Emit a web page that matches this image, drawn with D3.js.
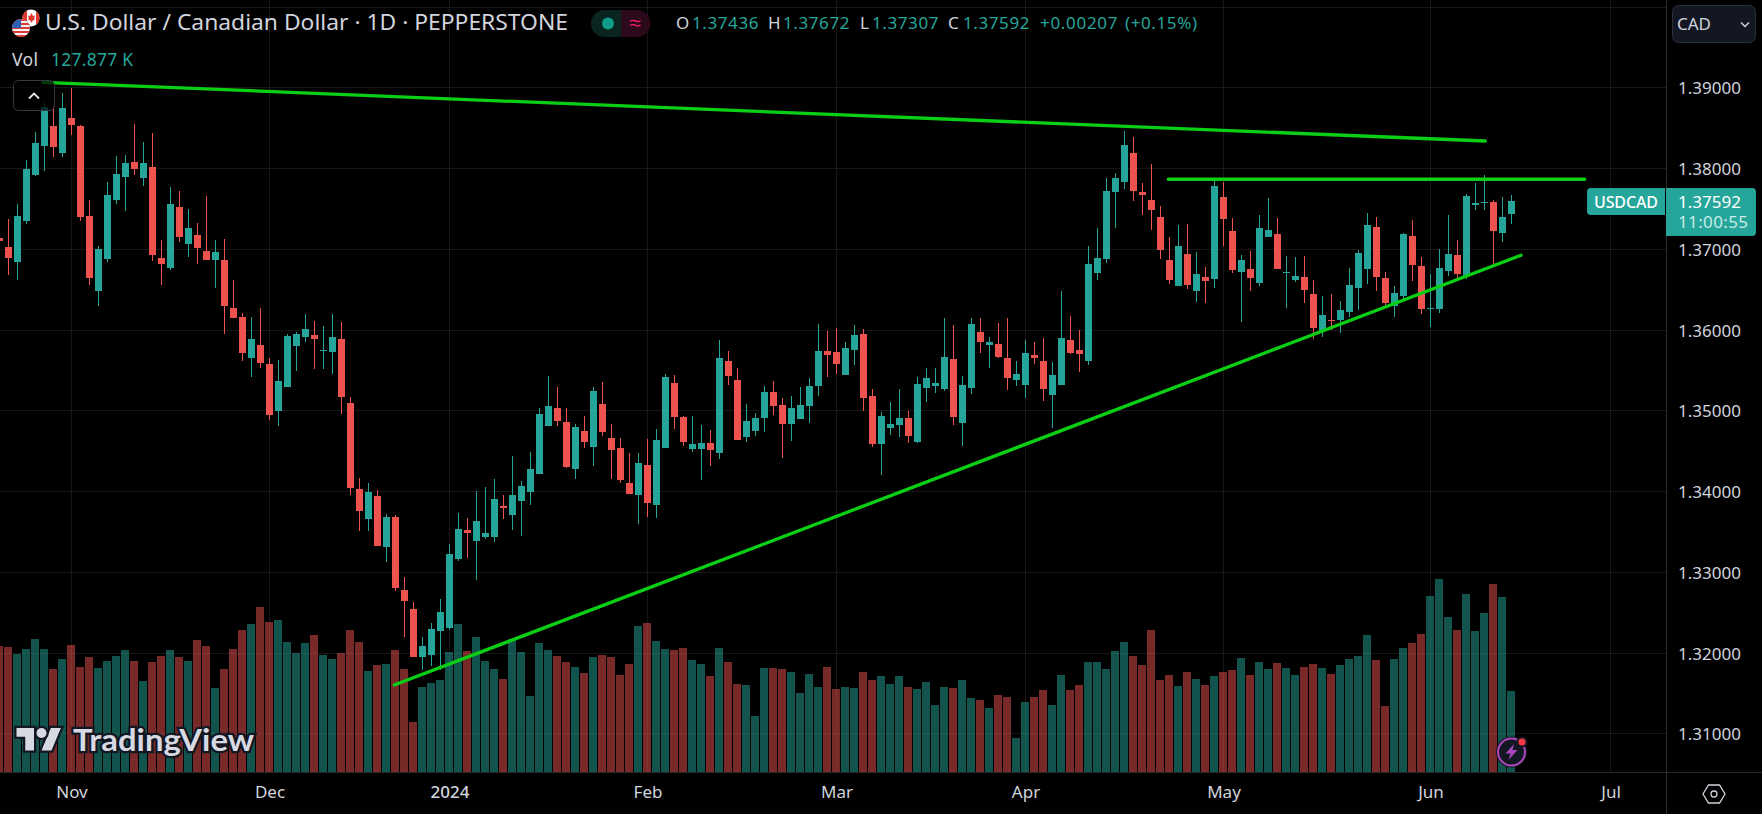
<!DOCTYPE html>
<html><head><meta charset="utf-8">
<script src="https://cdn.jsdelivr.net/npm/d3@7/dist/d3.min.js"></script>
<style>
html,body{margin:0;padding:0;background:#000;overflow:hidden}
svg{display:block}
text{font-family:"Noto Sans",sans-serif}
</style></head><body>
<svg id="c" width="1762" height="814"></svg>
<script>
// prices are stored in 1e-5 units (137592 = 1.37592)
const opens=[137134,137022,136836,137344,137914,138273,138520,138186,138620,138520,
137406,136477,136873,137604,137889,138075,137877,138013,136886,136762,
137517,137059,137171,136972,136861,136861,136267,136155,135647,135808,
135573,134991,135289,135797,135908,135933,135742,135722,135883,135091,
134026,133654,133939,133307,133678,132774,132539,131945,131969,132267,
132304,133159,133518,133382,133431,133431,133815,133704,133877,133989,
134211,134806,135029,134855,134273,134744,134546,135078,134657,134534,
134100,133951,134323,133828,134534,135338,134917,134521,134520,134595,
134471,135610,135375,134669,134743,134904,135226,135065,134830,134892,
135053,135301,135734,135722,135437,135746,135945,135177,134582,134781,
134818,134904,134607,135276,135301,135263,135635,134842,135276,135969,
135808,135821,135647,135375,135313,135685,135610,135189,135313,135870,
135746,135610,136700,136874,137703,137827,138186,137703,137604,137394,
136861,136539,136936,136477,136651,136626,137641,137220,136713,136750,
136576,137146,137183,136707,136614,136651,136440,135982,136115,136118,
136217,136515,136750,137270,136638,136292,136415,137158,136787,136266,
136254,136725,136923,136663,137542,137579,137580,137196,137436];
const highs=[137171,137369,137555,138099,138446,138801,138781,138929,138991,138533,
137604,137034,137827,138149,138161,138545,138322,138434,137109,137765,
137716,137493,137319,137654,137109,137121,136613,136205,136155,136267,
135648,135623,135945,135970,136193,136106,136044,136193,136094,135165,
134162,134100,134013,133716,133703,132935,132626,132192,132366,132663,
133344,133729,133667,134001,134051,134150,133951,134434,134125,134484,
135029,135425,135289,135029,134831,134930,135289,135351,134831,134657,
134472,134472,134645,134769,135450,135438,134930,134930,134818,134756,
135870,135734,135524,135078,134966,135301,135363,135152,135177,135288,
135400,136068,135982,136019,135846,136056,136007,135263,134979,135102,
135263,134991,135412,135524,135524,136143,136056,135424,136143,136143,
135907,136081,136143,135610,135870,135846,135895,135598,136477,136167,
135994,137035,137258,137877,137939,138459,138384,137815,138050,137530,
137146,137295,137307,136960,136775,137852,137827,137381,136923,136973,
137419,137629,137381,136911,136898,136911,136614,136415,136440,136353,
136762,136985,137443,137394,136713,136539,137196,137357,136898,136688,
136997,137419,137109,137679,137815,137914,137604,137641,137672];
const lows=[137047,136675,136613,137307,137901,137963,138137,138137,138409,137344,
136551,136291,136836,137555,137468,137914,137777,136849,136551,136737,
137084,136898,136811,136861,136514,135945,136143,135610,135412,135524,
134880,134805,135289,135487,135846,135512,135512,135450,134955,133951,
133506,133506,133320,133122,132762,132192,131945,131784,131833,131784,
132279,133134,133171,132898,133406,133369,133654,133518,133444,133828,
134211,134806,134806,134286,134150,134534,134311,134682,134150,134100,
133964,133592,133679,133667,134534,134769,134558,134484,134137,134310,
134397,135313,134632,134607,134681,134731,134941,134409,134619,134892,
134842,135177,135412,135449,135437,135561,134991,134545,134198,134694,
134669,134595,134595,135102,135214,135239,134818,134558,135202,135709,
135524,135647,135251,135301,135152,135573,135115,134781,135313,135697,
135474,135561,136614,136824,137258,137741,137592,137419,137233,136874,
136564,136539,136502,136341,136329,136515,137035,136700,136093,136477,
136539,137146,136750,136267,136589,136329,135883,135908,135994,135957,
136155,136242,136564,136477,136304,136155,136366,136601,136192,136032,
136205,136663,136638,136626,137480,137480,136799,137084,137307];
const closes=[137096,136886,137406,137988,138310,138756,138260,138743,138533,137394,
136638,136997,137666,137926,138062,137988,138062,136923,136811,137555,
137146,137257,137010,136861,136960,136291,136143,135709,135883,135585,
134942,135363,135920,135945,136007,135883,135743,135908,135165,134038,
133753,133989,133320,133679,132799,132638,131945,132081,132291,132502,
133220,133530,133481,133629,133481,133902,133790,133951,134063,134273,
134955,135054,134868,134298,134794,134608,135239,134732,134509,134137,
133964,134348,133852,134633,135413,134917,134608,134583,134595,134508,
135647,135424,134632,134867,134904,135226,135053,134830,135028,135065,
135301,135734,135685,135573,135771,135932,135152,134582,134929,134830,
134904,134681,135325,135400,135338,135660,134917,135313,136068,135846,
135846,135660,135400,135449,135709,135647,135263,135437,135895,135709,
135697,136812,136886,137716,137877,138285,137716,137666,137480,136985,
136614,137035,136552,136688,136601,137778,137369,136737,136861,136638,
137258,137233,136750,136708,136663,136490,136019,136180,136114,136242,
136552,136948,137295,136651,136329,136453,137183,136799,136254,136267,
136762,136936,136688,137654,137567,137580,137220,137394,137592];
// volume in thousands
const volumes=[198.9,197.3,186.3,194.2,210.0,194.2,162.6,178.4,200.5,165.8,
181.5,164.2,175.2,183.1,192.6,175.2,143.7,173.6,183.1,192.6,
181.5,175.2,208.4,198.9,132.6,162.6,194.2,224.2,233.6,260.5,
236.8,240.0,205.2,187.9,203.6,216.3,184.7,178.4,187.9,224.2,
205.2,159.4,168.9,170.5,192.6,162.6,78.9,134.2,140.5,145.2,
189.4,233.6,191.0,213.1,175.2,162.6,146.8,210.0,189.4,120.0,
203.6,192.6,183.1,173.6,165.8,156.3,181.5,184.7,181.5,153.1,
170.5,230.5,235.2,206.8,194.2,192.6,195.7,176.8,170.5,151.5,
195.7,173.6,138.9,137.3,88.4,164.2,164.2,162.6,157.9,124.7,
154.7,134.2,165.8,131.0,134.2,132.6,157.9,145.2,151.5,138.9,
151.5,134.2,131.0,142.1,105.8,134.2,132.6,145.2,116.8,113.7,
101.0,121.6,118.4,53.7,110.5,118.4,129.4,105.8,153.1,129.4,
137.3,173.6,173.6,162.6,191.0,205.2,183.1,168.9,224.2,145.2,
153.1,135.8,157.9,146.8,137.3,151.5,157.9,161.0,180.0,153.1,
173.6,162.6,172.1,164.2,153.1,165.8,170.5,164.2,154.7,168.9,
178.4,183.1,216.3,176.8,104.2,178.4,195.7,203.6,217.8,277.8,
304.7,244.7,224.2,281.0,222.6,251.0,296.8,276.3,127.877];

const priceTicks=[1.31,1.32,1.33,1.34,1.35,1.36,1.37,1.38,1.39];
const priceGridExtra=[1.40];
const monthBars=[8,30,50,72,93,114,136,159,179];
const monthLabels=["Nov","Dec","2024","Feb","Mar","Apr","May","Jun","Jul"];
// trend lines: [bar, price] endpoints
const trendUpper=[[4.83,1.39062],[165.09,1.38335]];
const trendFlat=[[129.87,1.37861],[176.13,1.37861]];
const trendRising=[[43.86,1.31598],[169.06,1.36920]];
const lastPrice=1.37592;
const ohlcLabels=["O","H","L","C"];
const ohlcValues=["1.37436","1.37672","1.37307","1.37592"];
const changeText="+0.00207";
const changePctText="(+0.15%)";
const titleText="U.S. Dollar / Canadian Dollar · 1D · PEPPERSTONE";

const UP="#26a69a",DOWN="#ef5350",TXT="#d1d4dc",GRID="#171717",LINE="#0bcf14",PANEL="#131722";
const W=1762,H=814,AXX=1666,AXY=772;
const svg=d3.select("#c");
const x=d3.scaleLinear().domain([0,1]).range([-0.5,8.5]);
const y=d3.scaleLinear().domain([1.31,1.39]).range([733.3,87.3]);
const v=d3.scaleLinear().domain([0,127.877]).range([AXY,691]);
const py=p=>y(p/1e5);

// grid
const grid=svg.append("g").attr("shape-rendering","crispEdges").attr("stroke",GRID);
grid.selectAll(".h").data(priceTicks.concat(priceGridExtra)).join("line")
 .attr("x1",0).attr("x2",AXX).attr("y1",d=>Math.round(y(d))+.5).attr("y2",d=>Math.round(y(d))+.5);
grid.selectAll(".v").data(monthBars).join("line")
 .attr("y1",0).attr("y2",AXY).attr("x1",d=>Math.floor(x(d))+.5).attr("x2",d=>Math.floor(x(d))+.5);

const bars=d3.range(opens.length);
const col=i=>closes[i]>=opens[i]?UP:DOWN;
// volume
svg.append("g").attr("shape-rendering","crispEdges").selectAll("rect").data(bars).join("rect")
 .attr("x",i=>x(i)-4.5).attr("width",8)
 .attr("y",i=>Math.round(v(volumes[i]))).attr("height",i=>AXY-Math.round(v(volumes[i])))
 .attr("fill",col).attr("fill-opacity",.5);
// wicks, bodies
const cg=svg.append("g").attr("shape-rendering","crispEdges");
cg.selectAll(".w").data(bars).join("rect")
 .attr("x",i=>x(i)-.5).attr("width",1)
 .attr("y",i=>Math.round(py(highs[i]))).attr("height",i=>Math.max(1,Math.round(py(lows[i]))-Math.round(py(highs[i]))))
 .attr("fill",col);
cg.selectAll(".b").data(bars).join("rect")
 .attr("x",i=>x(i)-3.5).attr("width",7)
 .attr("y",i=>Math.round(py(Math.max(opens[i],closes[i]))))
 .attr("height",i=>Math.max(1,Math.round(py(Math.min(opens[i],closes[i])))-Math.round(py(Math.max(opens[i],closes[i])))))
 .attr("fill",col);

// trend lines
const ln=d3.line().x(d=>x(d[0])).y(d=>y(d[1]));
svg.append("g").selectAll("path").data([trendUpper,trendFlat,trendRising]).join("path")
 .attr("d",ln).attr("fill","none").attr("stroke",LINE).attr("stroke-width",3.3).attr("stroke-linecap","round");

// right and bottom panels
svg.append("rect").attr("x",AXX).attr("y",0).attr("width",W-AXX).attr("height",H).attr("fill","#000");
svg.append("rect").attr("x",0).attr("y",AXY).attr("width",W).attr("height",H-AXY).attr("fill","#000");
svg.append("g").attr("shape-rendering","crispEdges").attr("stroke","#2a2a2a").call(g=>{
 g.append("line").attr("x1",0).attr("x2",W).attr("y1",AXY+.5).attr("y2",AXY+.5);
 g.append("line").attr("x1",AXX+.5).attr("x2",AXX+.5).attr("y1",0).attr("y2",H);
});

// axes
const ya=svg.append("g").attr("transform",`translate(${AXX},1)`)
 .call(d3.axisRight(y).tickValues(priceTicks).tickSize(0).tickPadding(12).tickFormat(d3.format(".5f")));
ya.select(".domain").remove();
ya.selectAll("text").attr("fill",TXT).attr("font-size",17).attr("font-family",'"Noto Sans"');
const xa=svg.append("g").attr("transform",`translate(0,${AXY})`)
 .call(d3.axisBottom(x).tickValues(monthBars).tickSize(0).tickPadding(14).tickFormat((d,i)=>monthLabels[i]));
xa.select(".domain").remove();
xa.selectAll("text").attr("fill",TXT).attr("font-size",17).attr("font-family",'"Noto Sans"')
 .attr("font-weight",(d,i)=>monthLabels[i]==="2024"?500:400);

// last-price labels
const tag=svg.append("g");
tag.append("path").attr("d","M1665,188H1591a4,4 0 0 0 -4,4V211a4,4 0 0 0 4,4H1665Z").attr("fill",UP);
tag.append("text").attr("x",1626).attr("y",207.5).attr("text-anchor","middle").attr("fill","#fff").attr("font-size",16).attr("font-weight",500).attr("textLength",64).text("USDCAD");
tag.append("path").attr("d","M1666,188H1752a4,4 0 0 1 4,4V232a4,4 0 0 1 -4,4H1666Z").attr("fill",UP);
tag.append("text").attr("x",1678).attr("y",208).attr("fill","#fff").attr("font-size",17).text(lastPrice.toFixed(5));
tag.append("text").attr("x",1678).attr("y",228).attr("fill","#c9ebe7").attr("font-size",17).attr("textLength",70).text("11:00:55");

// CAD button
const cad=svg.append("g");
cad.append("rect").attr("x",1672.5).attr("y",5.5).attr("width",83).attr("height",37).attr("rx",6).attr("fill",PANEL).attr("stroke","#2a2e39");
cad.append("text").attr("x",1677).attr("y",29.5).attr("fill",TXT).attr("font-size",17).text("CAD");
cad.append("path").attr("d","M1741,22.5l4,4l4,-4").attr("fill","none").attr("stroke",TXT).attr("stroke-width",1.5);

// hexagon settings icon
const hx=svg.append("g").attr("transform","translate(1714,794)").attr("fill","none").attr("stroke",TXT).attr("stroke-width",1.3);
hx.append("path").attr("d","M-11,0L-5.5,-9H5.5L11,0L5.5,9H-5.5Z");
hx.append("circle").attr("r",3);

// collapse button
const btn=svg.append("g");
btn.append("rect").attr("x",13.5).attr("y",80.5).attr("width",41).attr("height",30).attr("rx",5).attr("fill","rgba(0,0,0,.72)").attr("stroke","#363a45");
btn.append("path").attr("d","M29,98.5l5,-5l5,5").attr("fill","none").attr("stroke","#e0e3eb").attr("stroke-width",1.8);

// header
const defs=svg.append("defs");
defs.append("clipPath").attr("id","us").append("circle").attr("cx",21).attr("cy",28).attr("r",9);
defs.append("clipPath").attr("id","ca").append("circle").attr("cx",31).attr("cy",18).attr("r",8.5);
const ca=svg.append("g").attr("clip-path","url(#ca)");
ca.append("rect").attr("x",20).attr("y",8).attr("width",22).attr("height",20).attr("fill","#fff");
ca.append("rect").attr("x",20).attr("y",8).attr("width",7).attr("height",20).attr("fill","#e5392f");
ca.append("rect").attr("x",36).attr("y",8).attr("width",7).attr("height",20).attr("fill","#e5392f");
ca.append("path").attr("d","M31.5,13l1.5,3l2,-.5l-.8,3l1,.8l-3,1.7v1.5h-1.4v-1.5l-3,-1.7l1,-.8l-.8,-3l2,.5z").attr("fill","#e5392f");
const us=svg.append("g").attr("clip-path","url(#us)");
us.append("circle").attr("cx",21).attr("cy",28).attr("r",10.5).attr("fill","#000");
us.append("rect").attr("x",11).attr("y",18).attr("width",20).attr("height",20).attr("fill","#f2f2f2");
us.selectAll(".s").data(d3.range(5)).join("rect").attr("x",11).attr("width",20).attr("height",2)
 .attr("y",d=>19+d*4).attr("fill","#d93a36");
us.append("rect").attr("x",11).attr("y",18).attr("width",10).attr("height",10).attr("fill","#2f5fb3");
us.append("rect").attr("x",11).attr("y",35).attr("width",20).attr("height",2).attr("fill","#d93a36");

svg.append("text").attr("x",45).attr("y",30).attr("fill",TXT).attr("font-size",21).attr("textLength",523).attr("lengthAdjust","spacingAndGlyphs").text(titleText);

const pill=svg.append("g");
pill.append("path").attr("d","M621,10H604.5a13.5,13.5 0 0 0 0,27H621Z").attr("fill","#0a2520");
pill.append("path").attr("d","M621,10H637a13.5,13.5 0 0 1 0,27H621Z").attr("fill","#2c0a1c");
pill.append("circle").attr("cx",608).attr("cy",23.5).attr("r",6).attr("fill","#0f9d8a");
pill.append("text").attr("x",635).attr("y",30).attr("text-anchor","middle").attr("fill","#e91e63").attr("font-size",21).text("≈");

const OHX=[676,768,860,948],OVX=[692,783,872,963];
const hdr=svg.append("g").attr("font-size",17);
hdr.selectAll(".l").data(ohlcLabels).join("text").attr("x",(d,i)=>OHX[i]).attr("y",29).attr("fill",TXT).text(d=>d);
hdr.selectAll(".n").data(ohlcValues).join("text").attr("x",(d,i)=>OVX[i]).attr("y",29).attr("fill",UP).attr("textLength",66.5).text(d=>d);
hdr.append("text").attr("x",1040).attr("y",29).attr("fill",UP).attr("textLength",77.5).text(changeText);
hdr.append("text").attr("x",1125).attr("y",29).attr("fill",UP).attr("textLength",72).text(changePctText);
svg.append("text").attr("x",12).attr("y",66).attr("fill",TXT).attr("font-size",17.5).attr("textLength",26).text("Vol");
svg.append("text").attr("x",51).attr("y",66).attr("fill",UP).attr("font-size",17.5).attr("textLength",82).text("127.877 K");

// watermark
const wm=svg.append("g");
wm.append("g").attr("transform","translate(16.5,723) scale(1.25)").attr("fill","#d8dae3").attr("stroke",PANEL).attr("stroke-width",3.6).attr("paint-order","stroke").call(g=>{
 g.append("path").attr("d","M14 22H7V11H0V4h14v18zM28 22h-8l7.5-18h8L28 22z");
 g.append("circle").attr("cx",20).attr("cy",8).attr("r",4);
});
wm.append("text").attr("x",73).attr("y",750.5).attr("fill","#d8dae3").attr("stroke",PANEL).attr("stroke-width",4.5).attr("paint-order","stroke")
 .attr("font-size",31).attr("font-weight",700).attr("textLength",181).attr("lengthAdjust","spacingAndGlyphs").style("font-family","Lato").text("TradingView");

// bolt badge
const bo=svg.append("g").attr("transform","translate(1511.5,752)");
bo.append("circle").attr("r",15.5).attr("fill",PANEL);
bo.append("circle").attr("r",13.5).attr("fill",PANEL).attr("stroke","#ab47bc").attr("stroke-width",2);
bo.append("path").attr("d","M2.5,-8L-6,1.5H-1L-3,8L6,-2H1Z").attr("fill","#ab47bc");
bo.append("circle").attr("cx",10.5).attr("cy",-10).attr("r",5.5).attr("fill",PANEL);
bo.append("circle").attr("cx",10.5).attr("cy",-10).attr("r",3.6).attr("fill","#f23645");
</script></body></html>
